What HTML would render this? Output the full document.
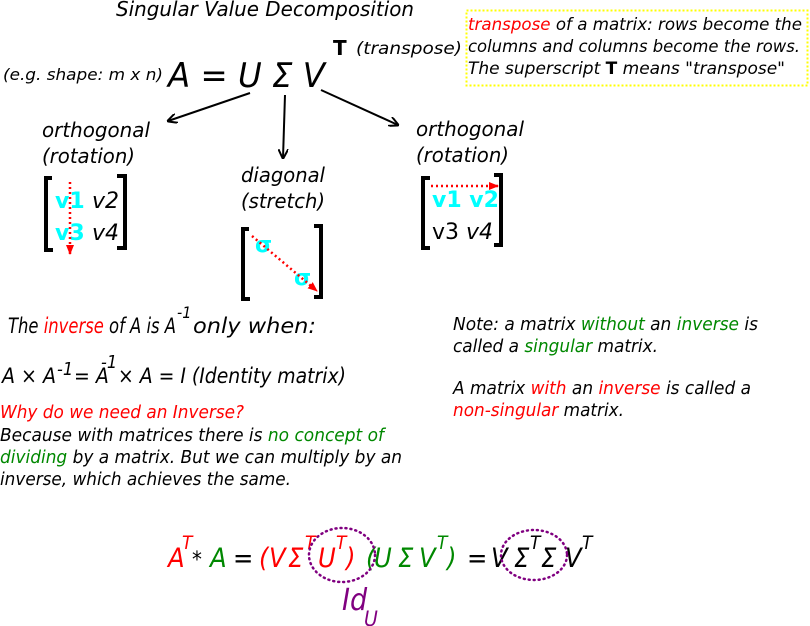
<!DOCTYPE html>
<html><head><meta charset="utf-8"><style>
html,body{margin:0;padding:0;background:#fff;}
svg{display:block;}
text{font-family:"DejaVu Sans","Liberation Sans",sans-serif;font-style:italic;fill:#000;}
.k{font-stretch:condensed;}
.r{fill:#f00}.g{fill:#080}.c{fill:#0ff;font-weight:bold;font-style:normal}.p{fill:#800080}
</style></head><body>
<svg width="810" height="626" viewBox="0 0 810 626" xmlns="http://www.w3.org/2000/svg">
<defs>
<marker id="ab" markerWidth="10" markerHeight="10" refX="9" refY="5" orient="auto" markerUnits="userSpaceOnUse"><path d="M0,0 L10,5 L0,10" fill="none" stroke="#000" stroke-width="2"/></marker>
<marker id="ar" markerWidth="10" markerHeight="10" refX="9" refY="5" orient="auto" markerUnits="userSpaceOnUse"><path d="M0,1 L10,5 L0,9 Z" fill="#f00"/></marker>
</defs>
<text x="116" y="16" font-size="20" textLength="298" lengthAdjust="spacingAndGlyphs">Singular Value Decomposition</text>
<text x="3" y="80" font-size="16" textLength="160" lengthAdjust="spacingAndGlyphs">(e.g. shape: m x n)</text>
<text x="168" y="87" font-size="34" textLength="157" lengthAdjust="spacingAndGlyphs">A = U Σ V</text>
<text x="333" y="55" font-size="20" style="font-style:normal;font-weight:bold">T</text>
<text x="356" y="54" font-size="17" textLength="106" lengthAdjust="spacingAndGlyphs">(transpose)</text>
<rect x="466.5" y="10.5" width="341" height="75" fill="none" stroke="#ff0" stroke-width="2" stroke-dasharray="2,2"/>
<text x="468" y="30" font-size="17" textLength="334" lengthAdjust="spacingAndGlyphs"><tspan class="r">transpose</tspan> of a matrix: rows become the</text>
<text x="468" y="52" font-size="17" textLength="332" lengthAdjust="spacingAndGlyphs">columns and columns become the rows.</text>
<text x="468" y="74" font-size="17" textLength="317" lengthAdjust="spacingAndGlyphs">The superscript  <tspan style="font-style:normal;font-weight:bold">T</tspan>  means "transpose"</text>
<g stroke="#000" stroke-width="2" fill="none">
<line x1="250" y1="93" x2="168" y2="121" marker-end="url(#ab)"/>
<line x1="285" y1="95" x2="283" y2="158" marker-end="url(#ab)"/>
<line x1="321" y1="90" x2="398" y2="125" marker-end="url(#ab)"/>
</g>
<text x="42" y="137" font-size="20" textLength="108" lengthAdjust="spacingAndGlyphs">orthogonal</text>
<text x="42" y="163" font-size="20" textLength="93" lengthAdjust="spacingAndGlyphs">(rotation)</text>
<text x="241" y="182" font-size="20" textLength="84" lengthAdjust="spacingAndGlyphs">diagonal</text>
<text x="241" y="208" font-size="20" textLength="84" lengthAdjust="spacingAndGlyphs">(stretch)</text>
<text x="416" y="136" font-size="20" textLength="108" lengthAdjust="spacingAndGlyphs">orthogonal</text>
<text x="416" y="162" font-size="20" textLength="93" lengthAdjust="spacingAndGlyphs">(rotation)</text>
<g fill="none" stroke="#000" stroke-width="4">
<path d="M52,178 H46 V250 H53"/><path d="M117,176 H125 V248 H117"/>
<path d="M249,229 H243 V299 H250"/><path d="M314,226 H321 V297 H314"/>
<path d="M430,178 H423 V248 H430"/><path d="M494,175 H501 V245 H494"/>
</g>
<text x="55" y="208" font-size="22" class="c">v1</text><text x="92" y="208" font-size="22">v2</text>
<text x="55" y="240" font-size="22" class="c">v3</text><text x="92" y="240" font-size="22">v4</text>
<text x="255" y="252" font-size="22" class="c">σ</text><text x="294" y="285" font-size="22" class="c">σ</text>
<text x="432" y="207" font-size="22" class="c">v1 v2</text>
<text x="432" y="239" font-size="22"><tspan style="font-style:normal">v3</tspan> v4</text>
<g stroke="#f00" stroke-width="2.5" stroke-dasharray="2,3" fill="none">
<line x1="70" y1="182" x2="70" y2="254" marker-end="url(#ar)"/>
<line x1="252" y1="236" x2="317" y2="291" marker-end="url(#ar)"/>
<line x1="431" y1="186" x2="498" y2="186" marker-end="url(#ar)"/>
</g>
<text class="k" x="8" y="333" font-size="21" textLength="168" lengthAdjust="spacingAndGlyphs">The <tspan class="r">inverse</tspan> of A is A</text>
<text class="k" x="177" y="318" font-size="16">-1</text>
<text class="k" x="193" y="333" font-size="21" textLength="123" lengthAdjust="spacingAndGlyphs">only when:</text>
<text class="k" x="2" y="383" font-size="21" textLength="54" lengthAdjust="spacingAndGlyphs">A × A</text>
<text class="k" x="57" y="375" font-size="18">-1</text>
<text class="k" x="74" y="383" font-size="21">= A</text>
<text class="k" x="101" y="368" font-size="18">-1</text>
<text class="k" x="118" y="383" font-size="21" textLength="228" lengthAdjust="spacingAndGlyphs">× A = I (Identity matrix)</text>
<text class="k r" x="0" y="418" font-size="18" textLength="244" lengthAdjust="spacingAndGlyphs">Why do we need an Inverse?</text>
<text class="k" x="0" y="441" font-size="18" textLength="384" lengthAdjust="spacingAndGlyphs">Because with matrices there is <tspan class="g">no concept of</tspan></text>
<text class="k" x="0" y="463" font-size="18" textLength="402" lengthAdjust="spacingAndGlyphs"><tspan class="g">dividing</tspan> by a matrix. But we can multiply by an</text>
<text class="k" x="0" y="485" font-size="18" textLength="291" lengthAdjust="spacingAndGlyphs">inverse, which achieves the same.</text>
<text class="k" x="453" y="330" font-size="18" textLength="305" lengthAdjust="spacingAndGlyphs">Note: a matrix <tspan class="g">without</tspan> an <tspan class="g">inverse</tspan> is</text>
<text class="k" x="453" y="352" font-size="18" textLength="205" lengthAdjust="spacingAndGlyphs">called a <tspan class="g">singular</tspan> matrix.</text>
<text class="k" x="453" y="394" font-size="18" textLength="298" lengthAdjust="spacingAndGlyphs">A matrix <tspan class="r">with</tspan> an <tspan class="r">inverse</tspan> is called a</text>
<text class="k" x="453" y="416" font-size="18" textLength="171" lengthAdjust="spacingAndGlyphs"><tspan class="r">non-singular</tspan> matrix.</text>
<g font-size="27" class="k">
<text x="168" y="567" class="r">A</text><text x="182" y="549" font-size="19" class="r">T</text>
<text x="192" y="567" font-size="22">*</text><text x="210" y="567" class="g">A</text>
<text x="233" y="567">=</text>
<text x="259" y="567" class="r">(</text><text x="269" y="567" class="r">V</text><text x="288" y="567" class="r">Σ</text>
<text x="305" y="549" font-size="19" class="r">T</text>
<text x="318" y="567" class="r">U</text><text x="336" y="549" font-size="19" class="r">T</text>
<text x="346" y="567" class="r">)</text>
<text x="366" y="567" class="g">(</text><text x="374" y="567" class="g">U</text><text x="398" y="567" class="g">Σ</text><text x="419" y="567" class="g">V</text>
<text x="437" y="549" font-size="19" class="g">T</text><text x="447" y="567" class="g">)</text>
<text x="467" y="567">=</text><text x="491" y="567">V</text>
<text x="514" y="567">Σ</text><text x="530" y="549" font-size="19">T</text>
<text x="541" y="567">Σ</text><text x="565" y="567">V</text><text x="582" y="549" font-size="19">T</text>
</g>
<text class="k p" x="342" y="610" font-size="30">Id</text><text class="k p" x="364" y="626" font-size="21">U</text>
<g fill="none" stroke="#800080" stroke-width="2.5" stroke-dasharray="1,4" stroke-linecap="round">
<ellipse cx="342" cy="555" rx="33" ry="27"/>
<ellipse cx="534" cy="555" rx="33" ry="25"/>
</g>
</svg>
</body></html>
